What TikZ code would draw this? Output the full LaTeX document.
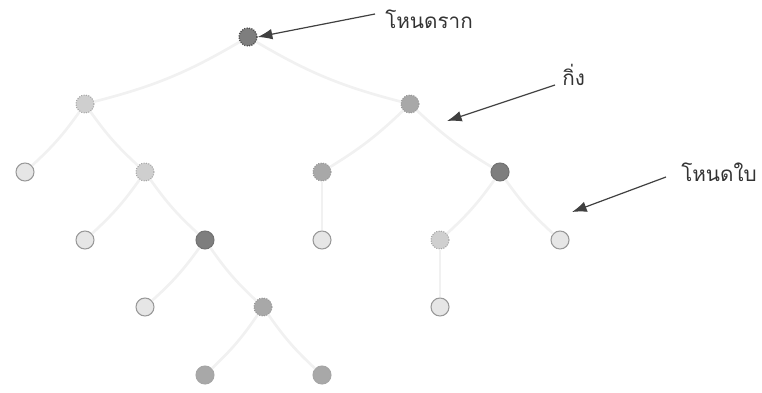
\documentclass[tikz,border=0pt]{standalone}
\usepackage{fontspec}
\newfontfamily\thaifont[Script=Thai]{Loma}
\usetikzlibrary{arrows.meta}
\definecolor{nddark}{HTML}{7E7E7E}
\definecolor{ndmid}{HTML}{A8A8A8}
\definecolor{ndlight}{HTML}{CFCFCF}
\definecolor{ndpale}{HTML}{E6E6E6}
\definecolor{edgegray}{HTML}{F1F1F1}
\begin{document}
\begin{tikzpicture}[x=0.75pt,y=-0.75pt,font=\thaifont,
  nd/.style={circle,minimum size=13.5pt,inner sep=0pt,line width=0.8pt},
  rootnd/.style={nd,fill=nddark,draw=black!70,densely dotted,line width=1pt},
  midnd/.style={nd,fill=ndmid,draw=black!40,densely dotted},
  darknd/.style={nd,fill=nddark,draw=black!55},
  graynd/.style={nd,fill=ndmid,draw=black!35},
  dotnd/.style={nd,fill=ndlight,draw=black!35,densely dotted},
  leafnd/.style={nd,fill=ndpale,draw=black!40},
  br/.style={draw=edgegray,line width=2pt},
  callout/.style={draw=black!75,line width=0.9pt,-{Latex[length=11pt,width=8pt]}},
  lbl/.style={font=\thaifont\fontsize{15.5}{18}\selectfont,text=black!80,anchor=west,inner sep=0pt}]
  \useasboundingbox (0,0) rectangle (762,392);
  % levels 0 to 5
  \node[rootnd] (r) at (248,37){};
  \node[dotnd] (a) at (85,104){};
  \node[midnd] (b) at (410,104){};
  \node[leafnd] (c) at (25,172){};
  \node[dotnd] (d) at (145,172){};
  \node[midnd] (e) at (322,172){};
  \node[darknd] (f) at (500,172){};
  \node[leafnd] (g) at (85,240){};
  \node[darknd] (h) at (205,240){};
  \node[leafnd] (i) at (322,240){};
  \node[dotnd] (j) at (440,240){};
  \node[leafnd] (k) at (560,240){};
  \node[leafnd] (l) at (145,307){};
  \node[midnd] (m) at (263,307){};
  \node[leafnd] (n) at (440,307){};
  \node[graynd] (o) at (205,375){};
  \node[graynd] (p) at (322,375){};
  % branches
  \draw[br] (r) to[bend left=8] (a);
  \draw[br] (r) to[bend right=8] (b);
  \draw[br] (a) to[bend left=6] (c);
  \draw[br] (a) to[bend right=6] (d);
  \draw[br] (d) to[bend left=6] (g);
  \draw[br] (d) to[bend right=6] (h);
  \draw[br] (b) to[bend left=6] (e);
  \draw[br] (b) to[bend right=6] (f);
  \draw[br] (e) -- (i);
  \draw[br] (f) to[bend left=6] (j);
  \draw[br] (f) to[bend right=6] (k);
  \draw[br] (h) to[bend left=6] (l);
  \draw[br] (h) to[bend right=6] (m);
  \draw[br] (j) -- (n);
  \draw[br] (m) to[bend left=6] (o);
  \draw[br] (m) to[bend right=6] (p);
  % labels
  \node[lbl] (lroot) at (385,19){โหนดราก};
  \node[lbl] (lbr) at (562,75){กิ่ง};
  \node[lbl] (lleaf) at (681,172){โหนดใบ};
  \coordinate (tbr) at (447,121);
  \coordinate (tleaf) at (572,212);
  \draw[callout] (lroot.west) ++(-10,-5) -- (r.east);
  \draw[callout] (lbr.west) ++(-7,10) -- (tbr);
  \draw[callout] (lleaf.west) ++(-15,5) -- (tleaf);
\end{tikzpicture}
\end{document}
